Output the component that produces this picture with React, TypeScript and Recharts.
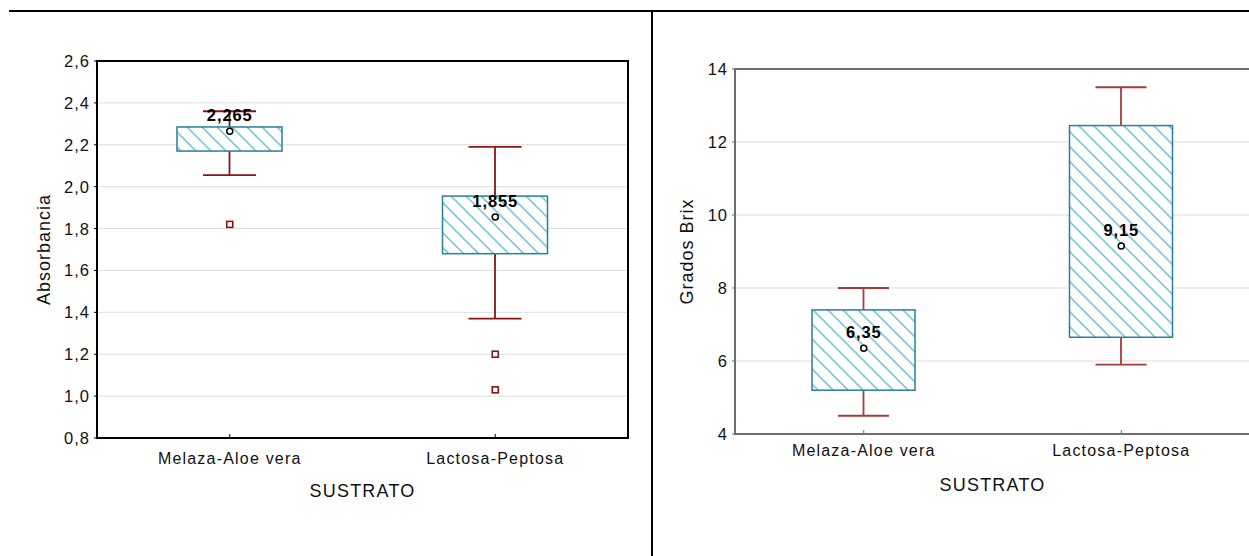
import { ComposedChart, Bar, Scatter, XAxis, YAxis, CartesianGrid, ReferenceArea } from 'recharts'

const FONT = '"Liberation Sans", Arial, Helvetica, sans-serif'

// SUSTRATO categories
const sustratos = ['Melaza-Aloe vera', 'Lactosa-Peptosa']

// Absorbancia: whisker ends, box (Q1..Q3), median, outliers
const absMin = [2.055, 1.37]
const absQ1 = [2.17, 1.68]
const absMedian = [2.265, 1.855]
const absQ3 = [2.285, 1.955]
const absMax = [2.36, 2.19]
const absOutlier1 = [1.82, 1.2]
const absOutlier2 = [null, 1.03]
const absTicks = [0.8, 1.0, 1.2, 1.4, 1.6, 1.8, 2.0, 2.2, 2.4, 2.6]

// Grados Brix
const brixMin = [4.5, 5.9]
const brixQ1 = [5.2, 6.65]
const brixMedian = [6.35, 9.15]
const brixQ3 = [7.4, 12.45]
const brixMax = [8.0, 13.5]
const brixOutlier1 = [null, null]
const brixOutlier2 = [null, null]
const brixTicks = [4, 6, 8, 10, 12, 14]

type Row = {
  sustrato: string
  box: [number, number]
  whisker: [number, number]
  median: number
  out1: number | null
  out2: number | null
}

const buildRows = (
  min: number[], q1: number[], med: number[], q3: number[], max: number[],
  o1: (number | null)[], o2: (number | null)[],
): Row[] =>
  sustratos.map((s, i) => ({
    sustrato: s,
    box: [q1[i], q3[i]],
    whisker: [min[i], max[i]],
    median: med[i],
    out1: o1[i],
    out2: o2[i],
  }))

const absRows = buildRows(absMin, absQ1, absMedian, absQ3, absMax, absOutlier1, absOutlier2)
const brixRows = buildRows(brixMin, brixQ1, brixMedian, brixQ3, brixMax, brixOutlier1, brixOutlier2)

const comma = (v: number) => String(v).replace('.', ',')

interface PanelProps {
  rows: Row[]
  ticks: number[]
  decimals: number
  yTitle: string
  width: number
  height: number
  margin: { top: number; right: number; bottom: number; left: number }
  yAxisWidth: number
  axisColor: string
  axisWidth: number
  whiskerColor: string
  boxSize: number
  capSize: number
  catDy: number
  titleDy: number
  yTitleDx: number
  id: string
}

function BoxPanel(p: PanelProps) {
  const textStyle = { fontFamily: FONT, fill: '#111' }

  // hatched box between Q1 and Q3
  const boxShape = (props: any) => {
    const { x, y, width, height, index } = props
    const pid = `${p.id}-hatch-${index}`
    return (
      <g>
        <defs>
          <pattern id={pid} patternUnits="userSpaceOnUse" width={15} height={15}>
            <path d="M0,0 L15,15 M-4,11 L4,19 M11,-4 L19,4" stroke="#84c8de" strokeWidth={1.7} />
          </pattern>
        </defs>
        <rect x={x} y={y} width={width} height={height} fill="#fff" />
        <rect x={x} y={y} width={width} height={height} fill={`url(#${pid})`} stroke="#2a7f99" strokeWidth={1.5} />
      </g>
    )
  }

  // min..max whisker with caps
  const whiskerShape = (props: any) => {
    const { x, y, width, height } = props
    const cx = x + width / 2
    return (
      <g stroke={p.whiskerColor} strokeWidth={1.8}>
        <line x1={cx} x2={cx} y1={y} y2={y + height} />
        <line x1={x} x2={x + width} y1={y} y2={y} />
        <line x1={x} x2={x + width} y1={y + height} y2={y + height} />
      </g>
    )
  }

  const medianShape = (props: any) => {
    const { cx, cy, payload } = props
    return (
      <g>
        <circle cx={cx} cy={cy} r={3} fill="#fff" stroke="#000" strokeWidth={1.5} />
        <text x={cx} y={cy - 16} textAnchor="middle" dominantBaseline="central" fontSize={16.5}
          fontWeight="bold" letterSpacing={0.9} style={{ ...textStyle, fill: '#000' }}>
          {comma(payload.median)}
        </text>
      </g>
    )
  }

  const outlierShape = (key: 'out1' | 'out2') => (props: any) => {
    const { cx, cy, payload } = props
    if (payload[key] == null || !isFinite(cy)) return <g />
    return <rect x={cx - 3} y={cy - 3} width={6} height={6} fill="#fff" stroke={p.whiskerColor} strokeWidth={1.6} />
  }

  const catTick = (props: any) => {
    const { x, y, payload } = props
    return (
      <g>
        <line x1={x} x2={x} y1={y} y2={y - 4} stroke={p.axisColor} strokeWidth={1} />
        <text x={x} y={y + p.catDy} textAnchor="middle" dominantBaseline="central" fontSize={16}
          letterSpacing={1.2} style={textStyle}>
          {payload.value}
        </text>
      </g>
    )
  }

  const valueTick = (props: any) => {
    const { x, y, payload } = props
    return (
      <g>
        <line x1={x} x2={x - 3} y1={y} y2={y} stroke={p.axisColor} strokeWidth={1} />
        <text x={x - 7} y={y} textAnchor="end" dominantBaseline="central" fontSize={16.5}
          letterSpacing={1} style={textStyle}>
          {Number(payload.value).toFixed(p.decimals).replace('.', ',')}
        </text>
      </g>
    )
  }

  const xTitle = (props: any) => {
    const vb = props.viewBox
    return (
      <text x={vb.x + vb.width / 2} y={vb.y + p.titleDy} textAnchor="middle" dominantBaseline="central"
        fontSize={18} letterSpacing={1.2} style={textStyle}>
        SUSTRATO
      </text>
    )
  }

  const yTitle = (props: any) => {
    const vb = props.viewBox
    const tx = vb.x + p.yTitleDx
    const ty = vb.y + vb.height / 2
    return (
      <text x={tx} y={ty} transform={`rotate(-90 ${tx} ${ty})`} textAnchor="middle" dominantBaseline="central"
        fontSize={18} letterSpacing={1} style={textStyle}>
        {p.yTitle}
      </text>
    )
  }

  const domain: [number, number] = [p.ticks[0], p.ticks[p.ticks.length - 1]]
  const axisLine = { stroke: p.axisColor, strokeWidth: p.axisWidth }

  return (
    <ComposedChart width={p.width} height={p.height} data={p.rows} margin={p.margin}>
      <CartesianGrid vertical={false} stroke="#dddddd" strokeWidth={1} xAxisId="box" />
      <XAxis xAxisId="box" dataKey="sustrato" type="category" height={60} axisLine={axisLine}
        tickLine={false} tickSize={0} tickMargin={0} tick={catTick} interval={0} label={xTitle} />
      <XAxis xAxisId="wh" dataKey="sustrato" type="category" hide />
      <YAxis type="number" domain={domain} ticks={p.ticks} allowDataOverflow interval={0} width={p.yAxisWidth}
        axisLine={axisLine} tickLine={false} tickSize={0} tickMargin={0} tick={valueTick} label={yTitle} />
      <Bar xAxisId="wh" dataKey="whisker" barSize={p.capSize} shape={whiskerShape} isAnimationActive={false} />
      <Bar xAxisId="box" dataKey="box" barSize={p.boxSize} shape={boxShape} isAnimationActive={false} />
      <Scatter xAxisId="box" dataKey="out1" shape={outlierShape('out1')} isAnimationActive={false} />
      <Scatter xAxisId="box" dataKey="out2" shape={outlierShape('out2')} isAnimationActive={false} />
      <Scatter xAxisId="box" dataKey="median" shape={medianShape} isAnimationActive={false} />
      {/* plot frame */}
      <ReferenceArea xAxisId="box" y1={domain[0]} y2={domain[1]} fill="none" fillOpacity={0}
        stroke={p.axisColor} strokeWidth={p.axisWidth} ifOverflow="visible" />
    </ComposedChart>
  )
}

export default function App() {
  return (
    <div style={{ position: 'absolute', left: 0, top: 0, width: 1249, height: 556, overflow: 'hidden', background: '#fff' }}>
      <div style={{ position: 'absolute', left: 9, top: 10, width: 1240, height: 2, background: '#000' }} />
      <div style={{ position: 'absolute', left: 651, top: 10, width: 2, height: 546, background: '#000' }} />

      <div style={{ position: 'absolute', left: 0, top: 0 }}>
        <BoxPanel
          id="abs"
          rows={absRows}
          ticks={absTicks}
          decimals={1}
          yTitle="Absorbancia"
          width={652}
          height={556}
          margin={{ top: 61, right: 24, bottom: 58, left: 37 }}
          yAxisWidth={60}
          axisColor="#000"
          axisWidth={2}
          whiskerColor="#8b1414"
          boxSize={105}
          capSize={53}
          catDy={20}
          titleDy={53}
          yTitleDx={7}
        />
      </div>

      <div style={{ position: 'absolute', left: 653, top: 0 }}>
        <BoxPanel
          id="brix"
          rows={brixRows}
          ticks={brixTicks}
          decimals={0}
          yTitle="Grados Brix"
          width={598}
          height={556}
          margin={{ top: 69, right: 1, bottom: 62, left: 32 }}
          yAxisWidth={50}
          axisColor="#6e6e6e"
          axisWidth={2}
          whiskerColor="#a83a3a"
          boxSize={103}
          capSize={51}
          catDy={16}
          titleDy={51}
          yTitleDx={2}
        />
      </div>
    </div>
  )
}
